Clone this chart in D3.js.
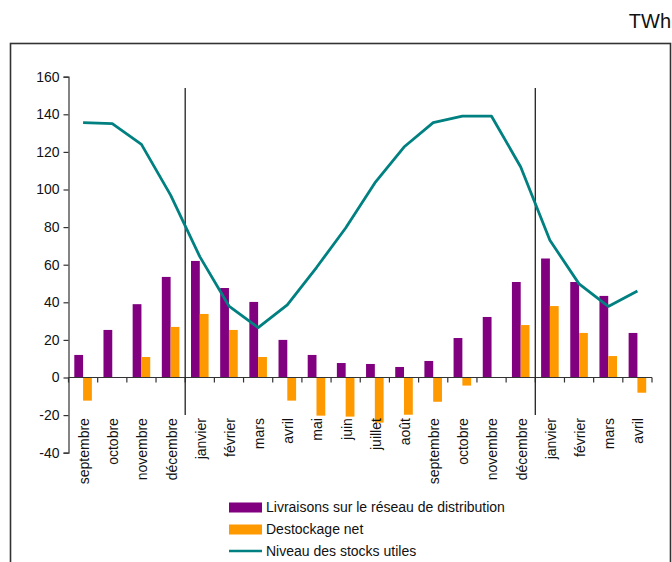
<!DOCTYPE html>
<html>
<head>
<meta charset="utf-8">
<script src="https://cdn.jsdelivr.net/npm/d3@7"></script>
<style>
  html, body { margin: 0; padding: 0; background: #fff; }
  svg { display: block; font-family: "Liberation Sans", Arial, sans-serif; }
</style>
</head>
<body>
<svg id="chart" width="672" height="562"></svg>
<script>
// Mois (septembre année N à avril année N+2)
const months = ["septembre","octobre","novembre","décembre","janvier","février","mars",
  "avril","mai","juin","juillet","août","septembre","octobre","novembre","décembre",
  "janvier","février","mars","avril"];

// Livraisons sur le réseau de distribution (TWh)
const livraisons = [12, 25.3, 39, 53.5, 62, 47.6, 40.2, 20, 12, 7.7, 7.2, 5.6, 8.8, 21, 32.2,
  50.8, 63.3, 50.8, 43.4, 23.7];

// Destockage net (TWh)
const destockage = [-12.3, 0, 10.9, 26.9, 33.8, 25.3, 10.9, -12.3, -20.3, -20.8, -24, -19.8,
  -12.9, -4.3, 0, 27.9, 38, 23.7, 11.4, -8.1];

// Niveau des stocks utiles (TWh)
const stocks = [135.6, 135, 124, 97, 64.3, 38, 26.5, 38.6, 58.5, 79.5, 103.5, 122.6, 135.6,
  139, 139, 112, 73, 49.8, 37.8, 46];

const yTicks = [-40, -20, 0, 20, 40, 60, 80, 100, 120, 140, 160];

// Séparateurs d'année : avant chaque janvier
const yearBreaks = [4, 16];

const seriesNames = ["Livraisons sur le réseau de distribution", "Destockage net", "Niveau des stocks utiles"];
const colors = { liv: "#800080", dest: "#FF9900", stock: "#008080" };
const FONT = "'Liberation Sans', Arial, sans-serif";

const svg = d3.select("#chart");

// Cadre
svg.append("rect")
  .attr("x", 10.5).attr("y", 43.5)
  .attr("width", 660).attr("height", 540)
  .attr("fill", "none").attr("stroke", "#333").attr("stroke-width", 1.6);

svg.append("text")
  .attr("x", 671).attr("y", 28)
  .attr("text-anchor", "end")
  .attr("font-size", 20)
  .attr("font-family", FONT)
  .attr("fill", "#111")
  .text("TWh");

const idx = d3.range(months.length);
const x = d3.scaleBand().domain(idx).range([68.5, 652]).paddingInner(0).paddingOuter(0);
const x1 = d3.scaleBand().domain(["liv", "dest"]).range([0, x.bandwidth()]).paddingInner(0).paddingOuter(0.66);
const y = d3.scaleLinear().domain([-40, 160]).range([452.7, 76.7]);

// Axe vertical (tiret simple pour les valeurs négatives)
const yAxis = d3.axisLeft(y).tickValues(yTicks).tickFormat(d => String(d)).tickSize(5).tickPadding(4);
const gy = svg.append("g").attr("transform", "translate(68.5,0)").call(yAxis);
gy.select(".domain").attr("stroke", "#333").attr("stroke-width", 1.2);
gy.selectAll(".tick line").attr("stroke", "#333").attr("stroke-width", 1.2);
gy.selectAll(".tick text").attr("font-size", 14).attr("fill", "#111")
  .attr("font-family", FONT);

// Barres
const bars = svg.append("g");
bars.selectAll("rect.liv").data(idx).join("rect")
  .attr("class", "liv")
  .attr("x", i => x(i) + x1("liv"))
  .attr("width", x1.bandwidth())
  .attr("y", i => y(Math.max(0, livraisons[i])))
  .attr("height", i => Math.abs(y(livraisons[i]) - y(0)))
  .attr("fill", colors.liv);
bars.selectAll("rect.dest").data(idx).join("rect")
  .attr("class", "dest")
  .attr("x", i => x(i) + x1("dest"))
  .attr("width", x1.bandwidth())
  .attr("y", i => y(Math.max(0, destockage[i])))
  .attr("height", i => Math.abs(y(destockage[i]) - y(0)))
  .attr("fill", colors.dest);

// Axe horizontal en zéro, graduations entre catégories
const gx = svg.append("g");
gx.append("line")
  .attr("x1", x.range()[0]).attr("x2", x.range()[1])
  .attr("y1", y(0)).attr("y2", y(0))
  .attr("stroke", "#333").attr("stroke-width", 1.2);
gx.selectAll("line.tk").data(d3.range(months.length + 1)).join("line")
  .attr("class", "tk")
  .attr("x1", i => x.range()[0] + i * x.step())
  .attr("x2", i => x.range()[0] + i * x.step())
  .attr("y1", y(0)).attr("y2", y(0) + 5)
  .attr("stroke", "#333").attr("stroke-width", 1.2);

// Libellés des mois (verticaux)
gx.selectAll("text").data(idx).join("text")
  .attr("transform", i => `translate(${x(i) + x.bandwidth() / 2 + 1},${y(-20) + 3}) rotate(-90)`)
  .attr("text-anchor", "end")
  .attr("dy", "0.35em")
  .attr("font-size", 14)
  .attr("font-family", FONT)
  .attr("fill", "#111")
  .text(i => months[i]);

// Séparateurs verticaux
svg.append("g").selectAll("line").data(yearBreaks).join("line")
  .attr("x1", b => x.range()[0] + b * x.step())
  .attr("x2", b => x.range()[0] + b * x.step())
  .attr("y1", y(154)).attr("y2", y(-20))
  .attr("stroke", "#222").attr("stroke-width", 1.3);

// Courbe des stocks
const line = d3.line().x(i => x(i) + x.bandwidth() / 2).y(i => y(stocks[i]));
svg.append("path")
  .datum(idx)
  .attr("d", line)
  .attr("fill", "none")
  .attr("stroke", colors.stock)
  .attr("stroke-width", 2.8)
  .attr("stroke-linejoin", "round");

// Légende
const legend = svg.append("g");
const legY = [507.5, 529.5, 551];
legend.append("rect").attr("x", 229).attr("y", legY[0] - 5).attr("width", 33).attr("height", 10).attr("fill", colors.liv);
legend.append("rect").attr("x", 229).attr("y", legY[1] - 5).attr("width", 33).attr("height", 10).attr("fill", colors.dest);
legend.append("line").attr("x1", 229).attr("x2", 262).attr("y1", legY[2]).attr("y2", legY[2])
  .attr("stroke", colors.stock).attr("stroke-width", 2.5);
legend.selectAll("text").data(seriesNames).join("text")
  .attr("x", 266)
  .attr("y", (d, i) => legY[i])
  .attr("dy", "0.35em")
  .attr("font-size", 14)
  .attr("font-family", FONT)
  .attr("fill", "#111")
  .text(d => d);
</script>
</body>
</html>
